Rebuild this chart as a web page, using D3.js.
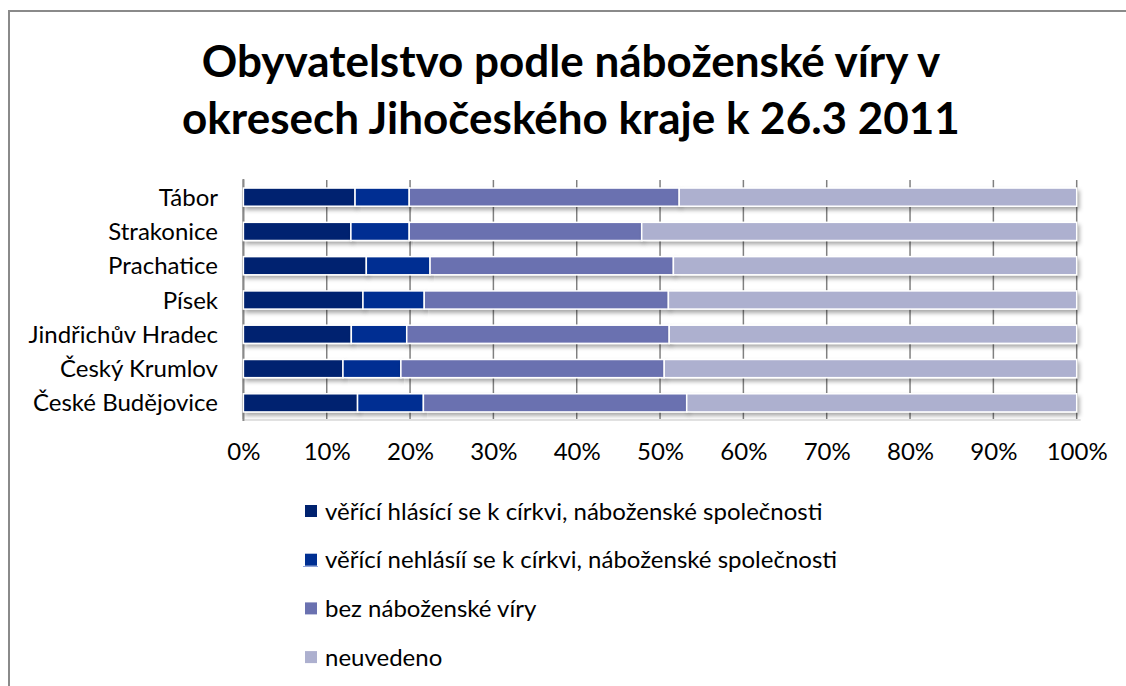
<!DOCTYPE html>
<html>
<head>
<meta charset="utf-8">
<script src="https://cdn.jsdelivr.net/npm/d3@7"></script>
<style>
  body { margin: 0; background: #fff; }
  text { font-family: Lato, "Open Sans", sans-serif; fill: #000; }
</style>
</head>
<body>
<div id="chart"></div>
<script>
/*******************************/
/*            Data             */
/*******************************/

var districts = ["Tábor", "Strakonice", "Prachatice", "Písek",
                 "Jindřichův Hradec", "Český Krumlov", "České Budějovice"];

var series_names = ["věřící hlásící se k církvi, náboženské společnosti",
                    "věřící nehlásíí se k církvi, náboženské společnosti",
                    "bez náboženské víry",
                    "neuvedeno"];

// shares in %, one array per series, in district order
var believers_church = [13.4, 12.9, 14.75, 14.35, 12.95, 11.95, 13.7];
var believers_no_church = [6.5, 7.0, 7.65, 7.35, 6.65, 6.95, 7.9];
var no_religion = [32.4, 27.9, 29.2, 29.3, 31.5, 31.6, 31.6];
var not_stated = [47.7, 52.2, 48.4, 49.0, 48.9, 49.5, 46.8];

var tick_values = [0, 10, 20, 30, 40, 50, 60, 70, 80, 90, 100];

var colors = ["#00226f", "#002f92", "#6a71b0", "#adb0cf"];

var title_lines = ["Obyvatelstvo podle náboženské víry v",
                   "okresech Jihočeského kraje k 26.3 2011"];

/*******************************/
/*         Chart setup         */
/*******************************/

var width = 1126, height = 686;
var label_size = "24px";

var svg = d3.select("#chart").append("svg")
  .attr("width", width)
  .attr("height", height);

var defs = svg.append("defs");
var shadow = defs.append("filter")
  .attr("id", "shadow")
  .attr("x", "-5%").attr("y", "-30%")
  .attr("width", "110%").attr("height", "180%");
shadow.append("feDropShadow")
  .attr("dx", 2).attr("dy", 3)
  .attr("stdDeviation", 2)
  .attr("flood-color", "#000")
  .attr("flood-opacity", 0.35);

// outer chart border (runs off the right and bottom edges)
svg.append("path")
  .attr("d", "M9,700 L9,11 L1140,11")
  .attr("fill", "none")
  .attr("stroke", "#8a8a8a")
  .attr("stroke-width", 2);

// title
svg.append("g").selectAll("text")
  .data(title_lines)
  .enter()
  .append("text")
  .attr("x", 571)
  .attr("y", function(d, i) { return 77 + i * 57; })
  .attr("text-anchor", "middle")
  .style("font-size", "44px")
  .style("font-weight", "bold")
  .text(function(d) { return d; });

var plot = { left: 243.4, right: 1076.7, top: 180, bottom: 420 };

var x = d3.scaleLinear()
  .domain([0, 100])
  .range([plot.left, plot.right]);

var y = d3.scaleBand()
  .domain(districts)
  .range([plot.top, plot.bottom])
  .paddingInner(0.47)
  .paddingOuter(0.235);

// stacked data
var table = districts.map(function(name, i) {
  return {
    district: name,
    s0: believers_church[i],
    s1: believers_no_church[i],
    s2: no_religion[i],
    s3: not_stated[i]
  };
});

var stack = d3.stack()
  .keys(["s0", "s1", "s2", "s3"])
  .offset(d3.stackOffsetExpand);

var layers = stack(table);

/*******************************/
/*        Grid and axes        */
/*******************************/

// vertical gridlines (bars are drawn on top of them)
svg.append("g").selectAll("line")
  .data(tick_values)
  .enter()
  .append("line")
  .attr("x1", function(d) { return x(d); })
  .attr("x2", function(d) { return x(d); })
  .attr("y1", plot.top)
  .attr("y2", plot.bottom - 1)
  .attr("stroke", "#808080")
  .attr("stroke-width", 1.5);

// bottom edge of plot area
svg.append("line")
  .attr("x1", plot.left).attr("x2", plot.right + 4)
  .attr("y1", plot.bottom).attr("y2", plot.bottom)
  .attr("stroke", "#d9d9d9")
  .attr("stroke-width", 1.5);

// category axis line
svg.append("line")
  .attr("x1", plot.left).attr("x2", plot.left)
  .attr("y1", plot.top - 1).attr("y2", plot.bottom + 1)
  .attr("stroke", "#8a8a8a")
  .attr("stroke-width", 2);

// x tick labels
var xAxis = d3.axisBottom(x)
  .tickValues(tick_values)
  .tickFormat(function(d) { return d + "%"; })
  .tickSize(0)
  .tickPadding(0);

var gx = svg.append("g")
  .attr("transform", "translate(0," + 440 + ")")
  .call(xAxis);
gx.select(".domain").remove();
gx.selectAll("text")
  .attr("dy", "0")
  .attr("y", 20)
  .style("font-size", label_size)
  .style("font-family", "Lato, 'Open Sans', sans-serif")
  .attr("fill", "#000");

// category labels
var yAxis = d3.axisLeft(y).tickSize(0).tickPadding(0);
var gy = svg.append("g")
  .attr("transform", "translate(" + 218 + ",0)")
  .call(yAxis);
gy.select(".domain").remove();
gy.selectAll("text")
  .attr("dy", "0.36em")
  .style("font-size", label_size)
  .style("font-family", "Lato, 'Open Sans', sans-serif")
  .attr("fill", "#000");

/*******************************/
/*            Bars             */
/*******************************/

svg.append("g").selectAll("g")
  .data(layers)
  .enter()
  .append("g")
  .attr("fill", function(d, i) { return colors[i]; })
  .selectAll("rect")
  .data(function(d) { return d; })
  .enter()
  .append("rect")
  .attr("x", function(d) { return x(d[0] * 100); })
  .attr("width", function(d) { return x(d[1] * 100) - x(d[0] * 100); })
  .attr("y", function(d) { return y(d.data.district); })
  .attr("height", y.bandwidth())
  .attr("stroke", "#fff")
  .attr("stroke-width", 1.5)
  .attr("filter", "url(#shadow)");

/*******************************/
/*           Legend            */
/*******************************/

var legend = svg.append("g").selectAll("g")
  .data(series_names)
  .enter()
  .append("g")
  .attr("transform", function(d, i) { return "translate(305," + (505 + i * 48.7) + ")"; });

legend.append("rect")
  .attr("width", 12)
  .attr("height", 12)
  .attr("fill", function(d, i) { return colors[i]; });

legend.append("text")
  .attr("x", 20)
  .attr("y", 6)
  .attr("dy", "0.36em")
  .style("font-size", label_size)
  .text(function(d) { return d; });

// thin marker line under the second legend key
svg.append("line")
  .attr("x1", 303).attr("x2", 318)
  .attr("y1", 566.5).attr("y2", 566.5)
  .attr("stroke", "#8fa3d8")
  .attr("stroke-width", 1);
</script>
</body>
</html>
